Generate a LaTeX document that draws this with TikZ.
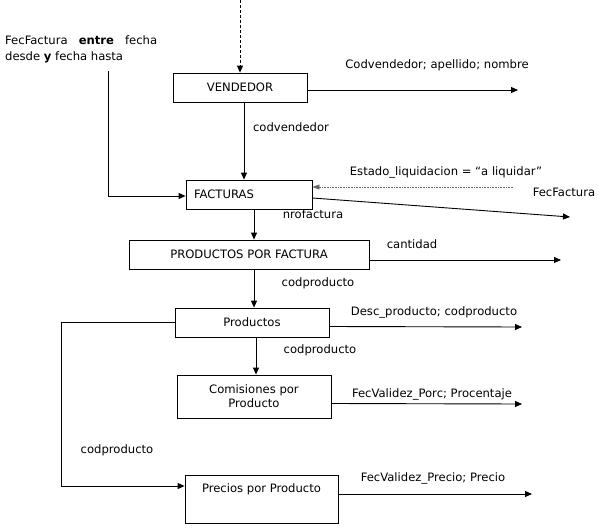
\documentclass[tikz,border=0pt]{standalone}
\usepackage{fontspec}
\setmainfont{DejaVu Sans}
\usetikzlibrary{arrows.meta, positioning, calc}
\newcommand{\diagfont}{\fontsize{11.6}{14}\selectfont}
\tikzset{
  tabla/.style={rectangle, draw=black, line width=0.8pt,
    minimum height=29pt, inner sep=3pt, font=\diagfont},
  flecha/.style={-{Triangle[length=7pt,width=6pt]}, line width=0.9pt, color=black},
  punteada/.style={-{Triangle[length=7pt,width=5pt]}, line width=0.6pt,
    densely dotted, color=black!60},
  etiq/.style={font=\diagfont, inner sep=0pt}
}

\begin{document}
\begin{tikzpicture}[x=1pt, y=-1pt]
  \useasboundingbox (0,0) rectangle (600,530);

  % Tablas
  \node[tabla, minimum width=134pt] (vend) at (240,87.5) {VENDEDOR};
  \node[tabla, text width=110pt, inner xsep=8pt, align=left] (fact) at (249,194.5) {FACTURAS};
  \node[tabla, minimum width=240pt] (pxf) at (249,254.5) {PRODUCTOS POR FACTURA};
  \node[tabla, minimum width=154pt] (prod) at (252,322.5) {Productos};
  \node[tabla, minimum width=154pt, minimum height=43pt, align=center] (comis) at (254,396.5) {Comisiones por\\Producto};
  \node[tabla, minimum width=153pt, text height=13pt, text depth=27pt, inner ysep=4pt] (prec) at (261.5,499) {Precios por Producto};

  % Filtro de fechas
  \node[etiq, font=\fontsize{11.6}{16}\selectfont, text width=152pt, align=justify, anchor=north west] (filtro) at (5,35)
    {FecFactura \textbf{entre} fecha\linebreak desde \textbf{y} fecha hasta};

  % Extremos libres
  \coordinate (entrada) at (240,0);
  \coordinate (filtroIni) at (108,71);
  \coordinate (salVend) at (518,90);
  \coordinate (entEstado) at (513,187);
  \coordinate (salFact) at (570,217);
  \coordinate (salPxf) at (561,260);
  \coordinate (salProd) at (522,327);
  \coordinate (salComis) at (522,404);
  \coordinate (salPrec) at (532,494);

  % Flujo principal
  \draw[flecha, densely dashed] (entrada) -- (vend.north);
  \draw[flecha] ([yshift=-2.5pt]vend.east) -- (salVend);
  \node[etiq] (lVend) at (437,65) {Codvendedor; apellido; nombre};
  \draw[flecha] ([xshift=4pt]vend.south) -- ([xshift=4pt]vend.south |- fact.north);
  \node[etiq] (lCodv) at (291,127) {codvendedor};

  \draw[flecha] (filtroIni) |- ([yshift=-1.5pt]fact.west);
  \draw[punteada] (entEstado) -- ([yshift=7.5pt]fact.east);
  \node[etiq] (lEstado) at (446,172) {Estado\_liquidacion = “a liquidar”};
  \draw[flecha] ([yshift=-3.5pt]fact.east) -- (salFact);
  \node[etiq] (lFecF) at (564,192) {FecFactura};

  \draw[flecha] ([xshift=5pt]fact.south) -- ([xshift=5pt]fact.south |- pxf.north);
  \node[etiq] (lNro) at (313,214) {nrofactura};
  \draw[flecha] ([yshift=-5.5pt]pxf.east) -- (salPxf);
  \node[etiq] (lCant) at (412,244) {cantidad};

  \draw[flecha] ([xshift=5pt]pxf.south) -- ([xshift=5pt]pxf.south |- prod.north);
  \node[etiq] (lCod1) at (318,283) {codproducto};
  \draw[flecha] ([yshift=-4pt]prod.east) -- (salProd);
  \node[etiq] (lDesc) at (434,312) {Desc\_producto; codproducto};

  \draw[flecha] ([xshift=4pt]prod.south) -- ([xshift=4pt]prod.south |- comis.north);
  \node[etiq] (lCod2) at (320,350) {codproducto};
  \draw[flecha] ([yshift=-7pt]comis.east) -- (salComis);
  \node[etiq] (lPorc) at (432,394) {FecValidez\_Porc; Procentaje};

  \draw[flecha] (prod.west) -- ++(-113,0) |- ([yshift=13pt]prec.west);
  \node[etiq] (lCod3) at (117,450) {codproducto};
  \draw[flecha] ([yshift=5pt]prec.east) -- (salPrec);
  \node[etiq] (lPrecio) at (433,478) {FecValidez\_Precio; Precio};
\end{tikzpicture}
\end{document}
